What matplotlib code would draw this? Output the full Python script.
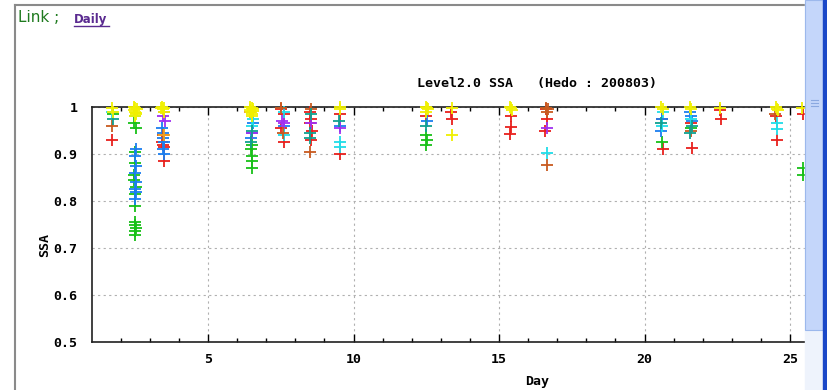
import matplotlib.pyplot as plt
from matplotlib.patches import Rectangle
from matplotlib.lines import Line2D

# SSA points, one colour per series (x = day of month, fractional)
red_day = [1.70, 3.45, 3.50, 3.48, 3.42, 7.52, 7.60, 7.50, 7.62, 8.52, 8.55, 8.50, 8.56, 8.53,
           9.54, 9.54, 12.50, 13.36, 13.38, 15.40, 15.42, 15.38, 16.60, 16.66, 16.58,
           20.60, 20.62, 21.60, 21.62, 22.60, 22.62, 24.52, 24.56, 25.44]
red_ssa = [0.930, 0.920, 0.915, 0.885, 0.925, 0.995, 0.985, 0.955, 0.925, 0.990, 0.975, 0.965, 0.950, 0.930,
           0.985, 0.900, 0.980, 0.990, 0.975, 0.980, 0.958, 0.942, 0.995, 0.975, 0.948,
           0.975, 0.910, 0.965, 0.913, 0.993, 0.975, 0.980, 0.930, 0.985]

green_day = [1.72, 2.46, 2.52, 2.50, 2.48, 2.44, 2.47, 2.52, 2.50, 2.48, 2.50, 2.49, 2.51, 2.48, 2.50,
             6.50, 6.48, 6.52, 6.50, 6.51, 12.50, 12.52, 12.50, 20.60, 21.60, 25.46, 25.46]
green_ssa = [0.985, 0.965, 0.955, 0.905, 0.880, 0.855, 0.845, 0.830, 0.815, 0.790, 0.755, 0.748, 0.742, 0.736, 0.728,
             0.920, 0.910, 0.895, 0.885, 0.870, 0.940, 0.930, 0.920, 0.925, 0.955, 0.870, 0.855]

blue_day = [2.52, 2.50, 2.53, 2.49, 2.52, 2.50, 2.51, 2.50, 3.42, 3.47, 3.45, 3.50, 3.44, 3.48,
            6.55, 6.50, 6.48, 7.60, 9.54, 12.52, 20.60, 20.58, 21.58, 21.60, 21.62]
blue_ssa = [0.910, 0.895, 0.875, 0.860, 0.840, 0.825, 0.820, 0.805, 0.955, 0.945, 0.935, 0.925, 0.910, 0.900,
            0.965, 0.945, 0.935, 0.960, 0.960, 0.970, 0.975, 0.950, 0.990, 0.980, 0.970]

purple_day = [3.50, 3.45, 3.52, 6.52, 7.55, 7.60, 8.55, 9.52, 16.66]
purple_ssa = [0.990, 0.980, 0.970, 0.945, 0.970, 0.965, 0.965, 0.955, 0.955]

cyan_day = [1.70, 2.50, 6.55, 6.50, 7.62, 7.60, 9.54, 9.55, 16.66, 20.62, 20.60, 21.60, 24.55, 24.57]
cyan_ssa = [0.990, 0.980, 0.975, 0.960, 0.990, 0.940, 0.925, 0.915, 0.902, 0.990, 0.960, 0.975, 0.965, 0.953]

brown_day = [1.70, 3.47, 7.52, 7.58, 8.50, 8.54, 16.60, 16.64, 16.68, 16.66, 21.60, 24.50]
brown_ssa = [0.960, 0.940, 0.998, 0.945, 0.905, 0.995, 0.998, 0.990, 0.995, 0.877, 0.950, 0.985]

orange_day = [3.50, 6.45]
orange_ssa = [0.940, 0.990]

teal_day = [1.72, 6.50, 6.48, 8.55, 8.52, 8.50, 9.50, 12.48, 20.58, 21.62, 21.58]
teal_ssa = [0.975, 0.950, 0.925, 0.985, 0.945, 0.935, 0.970, 0.960, 0.965, 0.960, 0.945]

yellow_day = [1.70, 1.72, 2.45, 2.50, 2.55, 2.48, 2.52, 2.50, 2.46, 2.54, 3.42, 3.48, 3.45, 3.50, 3.40,
              6.45, 6.50, 6.55, 6.48, 6.52, 6.50, 6.56, 6.44, 9.52, 9.55, 12.48, 12.52, 12.55, 12.50,
              13.38, 13.40, 15.38, 15.42, 15.45, 20.58, 20.62, 21.58, 21.60, 22.60, 24.52, 24.56, 24.60, 25.42]
yellow_ssa = [0.998, 0.990, 1.000, 0.998, 0.995, 0.990, 0.985, 0.980, 0.993, 0.988, 1.000, 0.998, 0.995, 0.990, 0.997,
              1.000, 0.998, 0.995, 0.990, 0.985, 0.980, 0.992, 0.993, 1.000, 0.995, 1.000, 0.998, 0.995, 0.990,
              0.998, 0.940, 1.000, 0.997, 0.993, 1.000, 0.996, 1.000, 0.995, 0.998, 1.000, 0.996, 0.993, 0.998]

series = [
    (red_day, red_ssa, '#e8201c'),
    (green_day, green_ssa, '#18c018'),
    (blue_day, blue_ssa, '#1a7ef0'),
    (purple_day, purple_ssa, '#a030f0'),
    (cyan_day, cyan_ssa, '#20dce8'),
    (brown_day, brown_ssa, '#c85a20'),
    (orange_day, orange_ssa, '#f0a020'),
    (teal_day, teal_ssa, '#10a090'),
    (yellow_day, yellow_ssa, '#f0f000'),
]

W, H = 827, 390
fig = plt.figure(figsize=(W / 100, H / 100), dpi=100)
fig.patch.set_facecolor('white')

# axes placed in pixels: x from 91.6 (day 1) to 805 (scrollbar), y from 342 (0.5) to 107 (1.0)
ax = fig.add_axes([91.6 / W, (H - 342) / H, (805 - 91.6) / W, (342 - 107) / H])
for d, s, c in series:
    ax.plot(d, s, linestyle='none', marker='+', markersize=8, markeredgewidth=1.3,
            color=c, clip_on=False, zorder=3)

ax.set_xlim(1, 1 + (805 - 91.6) / 29.1)
ax.set_ylim(0.5, 1.0)
ax.set_xticks([5, 10, 15, 20, 25])
ax.set_xticks(range(2, 26), minor=True)
ax.set_yticks([0.5, 0.6, 0.7, 0.8, 0.9, 1.0])
ax.set_yticklabels(['0.5', '0.6', '0.7', '0.8', '0.9', '1'])
mono = {'family': 'DejaVu Sans Mono', 'weight': 'bold', 'size': 9.5}
for lab in ax.get_xticklabels() + ax.get_yticklabels():
    lab.set_fontproperties(mono)
ax.tick_params(axis='x', which='major', direction='in', length=6, width=1, top=True, pad=8)
ax.tick_params(axis='x', which='minor', direction='in', length=3, width=1, top=True)
ax.tick_params(axis='y', which='major', direction='in', length=0, pad=10)
ax.grid(True, which='major', color='#b0b0b0', linestyle=(0, (2, 3)), linewidth=0.8)
ax.spines['right'].set_visible(False)
for sp in ['left', 'bottom', 'top']:
    ax.spines[sp].set_linewidth(1.2)
    ax.spines[sp].set_color('#202020')

fig.text(537 / W, 1 - 84 / H, 'Level2.0 SSA   (Hedo : 200803)', ha='center', va='center', fontdict=mono)
fig.text(537 / W, 1 - 381 / H, 'Day', ha='center', va='center', fontdict=mono)
fig.text(45 / W, 1 - 245 / H, 'SSA', ha='center', va='center', rotation=90, fontdict=mono)

# page header
fig.text(18 / W, 1 - 18 / H, 'Link ;', ha='left', va='center', color='#1e7a1e',
         fontsize=11, family='DejaVu Sans')
fig.text(74 / W, 1 - 19 / H, 'Daily', ha='left', va='center', color='#5a2a90',
         fontsize=8.5, weight='bold', family='DejaVu Sans')
fig.add_artist(Line2D([74 / W, 109 / W], [1 - 26 / H, 1 - 26 / H], color='#5a2a90', linewidth=1))

# page frame lines
fig.add_artist(Line2D([15 / W, 15 / W], [0, 1 - 5 / H], color='#8a8a8a', linewidth=1.5))
fig.add_artist(Line2D([15 / W, 805 / W], [1 - 5 / H, 1 - 5 / H], color='#8a8a8a', linewidth=1.5))

# browser scrollbar on the right
fig.add_artist(Rectangle((805 / W, 0), 18 / W, 1, color='#eef3fc', transform=fig.transFigure, zorder=5))
fig.add_artist(Rectangle((805 / W, 1 - 330 / H), 18 / W, 330 / H, facecolor='#c4d6fa',
                         edgecolor='#9cb8ec', linewidth=0.8, transform=fig.transFigure, zorder=5))
for gy in [100, 103, 106]:
    fig.add_artist(Line2D([811 / W, 818 / W], [1 - gy / H, 1 - gy / H], color='#8aa8e0',
                          linewidth=0.8, zorder=6))
fig.add_artist(Rectangle((823 / W, 0), 4 / W, 1, color='#1a48c8', transform=fig.transFigure, zorder=5))

plt.savefig('out.png', dpi=100)
